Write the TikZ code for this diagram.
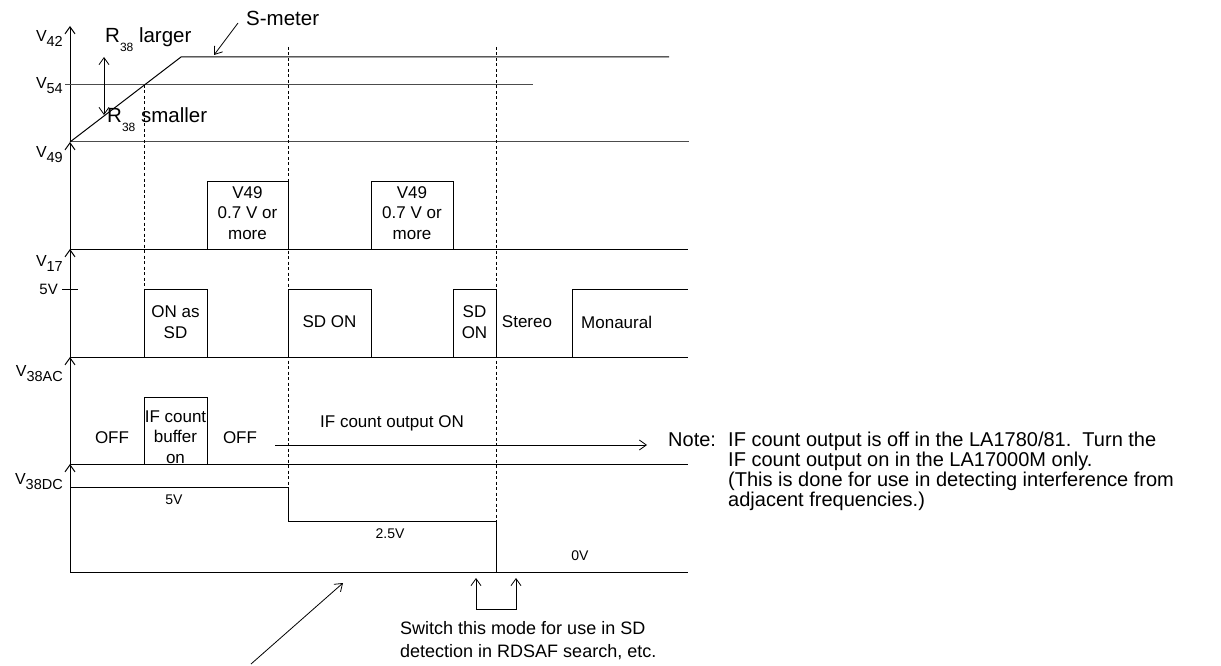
\documentclass[tikz,border=0pt]{standalone}
\usepackage{fontspec}
\setmainfont{Liberation Sans}
\usetikzlibrary{arrows.meta}
\tikzset{
	sigline/.style={line width=1pt},
	greyline/.style={line width=1pt, black!70},
	guideline/.style={line width=0.8pt, dash pattern=on 3pt off 2.5pt},
	barb/.style={-{Straight Barb[length=7pt, width=10pt]}},
	barbs/.style={{Straight Barb[length=7pt, width=10pt]}-{Straight Barb[length=7pt, width=10pt]}},
	txt/.style={inner sep=0pt, font=\fontsize{17}{20.5}\selectfont, align=center},
	smalltxt/.style={inner sep=0pt, font=\fontsize{14}{17}\selectfont},
	bigtxt/.style={inner sep=0pt, font=\fontsize{20.5}{24}\selectfont},
	notetxt/.style={inner sep=0pt, anchor=base west, font=\fontsize{20}{20}\selectfont},
	axlabel/.style={inner sep=0pt, anchor=east, font=\fontsize{16}{18}\selectfont},
}
\newcommand{\vlab}[1]{V\raisebox{-5pt}{\fontsize{14.5}{16}\selectfont #1}}
\newcommand{\rlab}{R\raisebox{-9pt}{\fontsize{12}{14}\selectfont 38}}

\begin{document}
\begin{tikzpicture}[x=1pt, y=-1pt]
	\useasboundingbox (0,0) rectangle (1221,666);
	% time axis with one arrow per trace
	\foreach \a/\b in {142/26, 249/142, 357/249, 464/357, 572/464}
		\draw[sigline, barb] (70,\a) -- (70,\b);
	\node[axlabel] (v42) at (63,38) {\vlab{42}};
	\node[axlabel] (v54) at (63,86) {\vlab{54}};
	\node[axlabel] (v49) at (63,155) {\vlab{49}};
	\node[axlabel] (v17) at (63,263) {\vlab{17}};
	\node[axlabel] (v38ac) at (63,374) {\vlab{38AC}};
	\node[axlabel] (v38dc) at (63,482) {\vlab{38DC}};

	% S-meter, V54, V49
	\draw[greyline] (65,85) -- (533,85);
	\draw[greyline] (70,142) -- (689,142);
	\draw[sigline] (70,142) -- (181,57) -- (669,57);
	\node[bigtxt, anchor=west] (smeter) at (246,18) {S-meter};
	\coordinate (smtip) at (214,55);
	\draw[line width=0.8pt, barb] ([xshift=-8pt, yshift=-5pt]smeter.west) -- (smtip);
	\coordinate (rtop) at (104,57);
	\coordinate (rbot) at (104,115);
	\draw[line width=0.8pt, barbs] (rtop) -- (rbot);
	\node[bigtxt, anchor=west] (rlarger) at (105,40) {\rlab\ larger};
	\node[bigtxt, anchor=west] (rsmaller) at (107,120) {\rlab\ smaller};

	% timing guides
	\draw[guideline] (144,85) -- (144,289);
	\draw[guideline] (288,47) -- (288,487);
	\draw[guideline] (496,47) -- (496,521);

	% V49 trace
	\draw[sigline] (70,249) -- (688,249);
	\draw[sigline] (207,249) -- (207,181) -- (288,181) -- (288,249);
	\draw[sigline] (371,249) -- (371,181) -- (453,181) -- (453,249);
	\node[txt] (v49a) at (247.5,213) {V49\\0.7 V or\\more};
	\node[txt] (v49b) at (412,213) {V49\\0.7 V or\\more};

	% V17 trace
	\draw[sigline] (62,289) -- (78,289);
	\node[smalltxt, anchor=east, font=\fontsize{15}{18}\selectfont] (fivev) at (58,289) {5V};
	\draw[sigline] (70,357) -- (688,357);
	\draw[sigline] (144,357) -- (144,289) -- (207,289) -- (207,357);
	\draw[sigline] (288,357) -- (288,289) -- (371,289) -- (371,357);
	\draw[sigline] (453,357) -- (453,289) -- (496,289) -- (496,357);
	\draw[sigline] (572,357) -- (572,289) -- (688,289);
	\node[txt] (onsd) at (175.5,322) {ON as\\SD};
	\node[txt] (sdon) at (329.5,322) {SD ON};
	\node[txt] (sdon2) at (474.5,322) {SD\\ON};
	\node[txt] (stereo) at (527,322) {Stereo};
	\node[txt, anchor=west] (mono) at (581,322) {Monaural};

	% V38AC trace
	\draw[sigline] (70,464) -- (688,464);
	\draw[sigline] (144,464) -- (144,397) -- (207,397) -- (207,464);
	\node[txt] (off1) at (112,438) {OFF};
	\node[txt] (ifbuf) at (175.5,437) {IF count\\buffer\\on};
	\node[txt] (off2) at (240,438) {OFF};
	\coordinate (ifstart) at (275,445);
	\coordinate (ifend) at (647,445);
	\draw[line width=0.8pt, barb] (ifstart) -- (ifend);
	\node[txt] (ifon) at (392,423) {IF count output ON};

	% V38DC trace
	\draw[sigline] (70,487) -- (288,487) -- (288,521) -- (496,521) -- (496,572);
	\draw[sigline] (70,572) -- (688,572);
	\node[smalltxt] (dc5) at (174,500) {5V};
	\node[smalltxt] (dc25) at (390,534) {2.5V};
	\node[smalltxt] (dc0) at (580,556) {0V};

	% notes
	\node[notetxt] (note) at (668,446) {Note:};
	\node[notetxt] (note1) at (728,446) {IF count output is off in the LA1780/81.\ \ Turn the};
	\node[notetxt] (note2) at (728,466) {IF count output on in the LA17000M only.};
	\node[notetxt] (note3) at (728,486) {(This is done for use in detecting interference from};
	\node[notetxt] (note4) at (728,506) {adjacent frequencies.)};
	\coordinate (swl) at (476,578);
	\coordinate (swr) at (516,578);
	\draw[line width=0.8pt, barbs] (swl) -- ++(0,31) -| (swr);
	\node[notetxt, font=\fontsize{18}{20}\selectfont] (sw1) at (400,634) {Switch this mode for use in SD};
	\node[notetxt, font=\fontsize{18}{20}\selectfont] (sw2) at (400,657) {detection in RDSAF search, etc.};
	\coordinate (mtail) at (251,664);
	\coordinate (mtip) at (343,583);
	\draw[line width=0.8pt, barb] (mtail) -- (mtip);
\end{tikzpicture}
\end{document}
